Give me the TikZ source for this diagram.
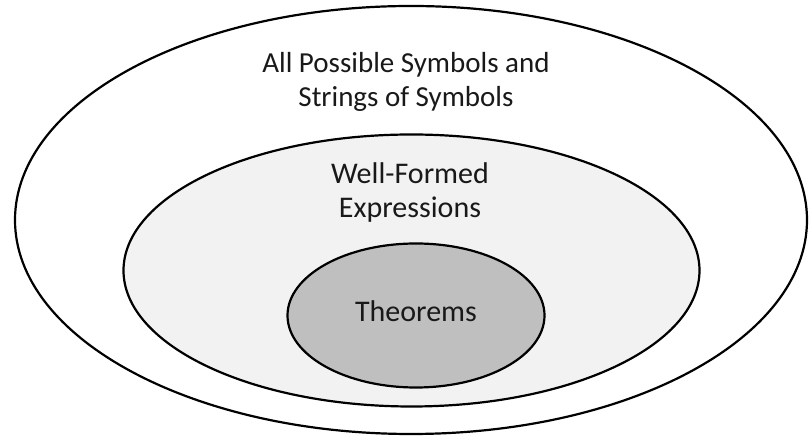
\documentclass[tikz,border=0pt]{standalone}
\usepackage{fontspec}
\setmainfont{Carlito}
\definecolor{midfill}{HTML}{F2F2F2}
\definecolor{innerfill}{HTML}{BFBFBF}
\begin{document}
\begin{tikzpicture}[x=1pt,y=1pt,
  ring/.style={draw=black,line width=2.2pt},
  lbl/.style={align=center,inner sep=0pt,font=\fontsize{30}{34}\selectfont,text=black!90}]
\useasboundingbox (0,0) rectangle (809,438);
\draw[ring,fill=white] (411,218) ellipse [x radius=396,y radius=214];
\draw[ring,fill=midfill] (411.5,167.5) ellipse [x radius=288,y radius=136];
\draw[ring,fill=innerfill] (416,122.5) ellipse [x radius=128.5,y radius=72];
\node[lbl,anchor=base,font=\fontsize{29}{34}\selectfont] (outer) at (406,331) {All Possible Symbols and\\Strings of Symbols};
\node[lbl,anchor=base] (mid) at (410,220) {Well-Formed\\Expressions};
\node[lbl,anchor=base] (inner) at (416,116) {Theorems};
\end{tikzpicture}
\end{document}
